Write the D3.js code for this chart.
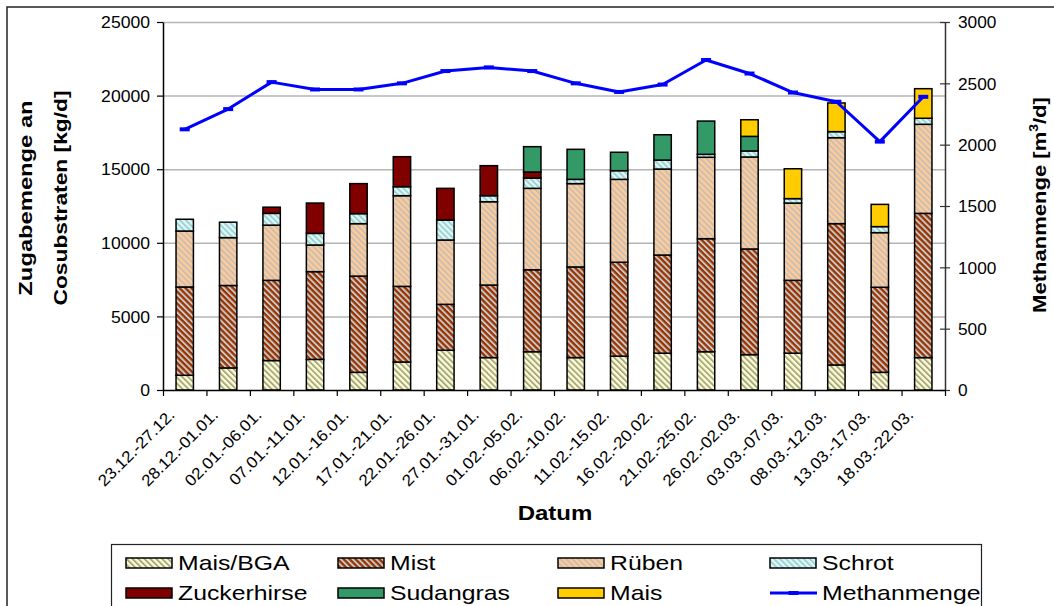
<!DOCTYPE html>
<html><head><meta charset="utf-8">
<script src="https://cdn.jsdelivr.net/npm/d3@7"></script>
<style>body{margin:0;background:#fff}svg{display:block}text{font-family:"Liberation Sans",Arial,sans-serif}</style>
</head><body>
<script>
const categories = ["23.12.-27.12.","28.12.-01.01.","02.01.-06.01.","07.01.-11.01.","12.01.-16.01.","17.01.-21.01.","22.01.-26.01.","27.01.-31.01.","01.02.-05.02.","06.02.-10.02.","11.02.-15.02.","16.02.-20.02.","21.02.-25.02.","26.02.-02.03.","03.03.-07.03.","08.03.-12.03.","13.03.-17.03.","18.03.-22.03."];
const maisBGA     = [1000,1500,2000,2080,1200,1900,2700,2200,2600,2200,2300,2500,2600,2400,2500,1700,1200,2200];
const mist        = [6000,5600,5450,5960,6540,5140,3120,4930,5570,6160,6380,6670,7680,7180,4950,9600,5780,9800];
const rueben      = [3800,3250,3750,1810,3560,6160,4370,5660,5530,5660,5630,5840,5530,6250,5250,5840,3710,6050];
const schrot      = [800,1050,800,790,680,610,1360,410,700,290,590,610,200,410,300,410,410,410];
const zuckerhirse = [0,0,420,2060,2040,2040,2150,2040,410,0,0,0,0,0,0,0,0,0];
const sudangras   = [0,0,0,0,0,0,0,0,1720,2040,1250,1720,2260,990,0,0,0,0];
const mais        = [0,0,0,0,0,0,0,0,0,0,0,0,0,1130,2030,1950,1510,2010];
const methan      = [2125,2290,2510,2450,2450,2500,2600,2630,2600,2500,2430,2490,2690,2580,2425,2350,2025,2390];
const leftTicks   = [0,5000,10000,15000,20000,25000];
const rightTicks  = [0,500,1000,1500,2000,2500,3000];
const seriesNames = ["Mais/BGA","Mist","Rüben","Schrot","Zuckerhirse","Sudangras","Mais"];
const seriesData  = [maisBGA,mist,rueben,schrot,zuckerhirse,sudangras,mais];

const W=1054,H=606, L=163,R=945,T=22,B=390;
const svg=d3.select("body").append("svg").attr("width",W).attr("height",H);
svg.append("rect").attr("width",W).attr("height",H).attr("fill","#fff");
const defs=svg.append("defs");
function stripe(id,bg,fg){
  const p=defs.append("pattern").attr("id",id).attr("patternUnits","userSpaceOnUse")
    .attr("width",4.2).attr("height",4.2).attr("patternTransform","rotate(-45)");
  p.append("rect").attr("width",4.2).attr("height",4.2).attr("fill",bg);
  p.append("rect").attr("width",1.9).attr("height",4.2).attr("fill",fg);
}
stripe("pMaisBGA","#FFFFCC","#A6A68C");
stripe("pMist","#993300","#C8C8C8");
stripe("pRueben","#FFCC99","#C8BEB4");
stripe("pSchrot","#CCFFFF","#B4C8C8");
const fills={"Mais/BGA":"url(#pMaisBGA)","Mist":"url(#pMist)","Rüben":"url(#pRueben)","Schrot":"url(#pSchrot)","Zuckerhirse":"#800000","Sudangras":"#339966","Mais":"#FFCC00"};

// outer frame
svg.append("rect").attr("x",7).attr("y",7).attr("width",1200).attr("height",800).attr("fill","none").attr("stroke","#222").attr("stroke-width",1.5);

const x=d3.scaleBand().domain(categories).range([L,R]).paddingInner(0.6).paddingOuter(0.3);
const xi=d3.scaleLinear().domain([0,categories.length]).range([L,R]);
const yL=d3.scaleLinear().domain([0,25000]).range([B,T]);
const yR=d3.scaleLinear().domain([0,3000]).range([B,T]);

function stretch(sel,sx){
  sel.each(function(){
    const t=d3.select(this); const tx=+t.attr("x")||0, ty=+t.attr("y")||0;
    t.attr("x",0).attr("y",0).attr("transform",`translate(${tx},${ty}) scale(${sx},1)`);
  });
}

// gridlines
const grid=svg.append("g").attr("transform",`translate(${L},0)`)
  .call(d3.axisLeft(yL).tickValues(leftTicks.filter(v=>v>0)).tickSize(-(R-L)).tickFormat(""));
grid.select(".domain").remove();
grid.selectAll("line").attr("stroke","#B4B4B4").attr("stroke-width",1.5);

// bars
const rows=categories.map((c,i)=>{const o={cat:c};seriesNames.forEach((s,k)=>o[s]=seriesData[k][i]);return o;});
const stacked=d3.stack().keys(seriesNames)(rows);
svg.append("g").selectAll("g").data(stacked).join("g").attr("fill",d=>fills[d.key])
  .selectAll("rect").data(d=>d.filter(e=>e[1]-e[0]>0)).join("rect")
  .attr("x",d=>x(d.data.cat)).attr("width",x.bandwidth())
  .attr("y",d=>yL(d[1])).attr("height",d=>yL(d[0])-yL(d[1]))
  .attr("stroke","#000").attr("stroke-width",1.5);

// left axis
const ax=svg.append("g").attr("transform",`translate(${L},0)`)
  .call(d3.axisLeft(yL).tickValues(leftTicks).tickSizeInner(6).tickSizeOuter(0).tickPadding(7).tickFormat(d3.format("d")));
ax.select(".domain").attr("stroke","#000").attr("stroke-width",1.5);
ax.selectAll("line").attr("stroke","#000").attr("stroke-width",1.2);
ax.selectAll("text").attr("font-size",16).attr("fill","#000").attr("dy","0.36em");
stretch(ax.selectAll("text"),1.1);

// right axis
const ar=svg.append("g").attr("transform",`translate(${R},0)`)
  .call(d3.axisRight(yR).tickValues(rightTicks).tickSizeInner(5).tickSizeOuter(0).tickPadding(8).tickFormat(d3.format("d")));
ar.select(".domain").attr("stroke","#333").attr("stroke-width",1.5);
ar.selectAll("line").attr("x1",-5).attr("stroke","#333").attr("stroke-width",1.2);
ar.selectAll("text").attr("font-size",16).attr("fill","#000").attr("dy","0.36em");
stretch(ar.selectAll("text"),1.08);

// bottom axis: tick marks at boundaries
const ab=svg.append("g").attr("transform",`translate(0,${B})`)
  .call(d3.axisBottom(xi).ticks(categories.length).tickSizeInner(6).tickSizeOuter(0).tickFormat(""));
ab.select(".domain").attr("stroke","#000").attr("stroke-width",1.5);
ab.selectAll("line").attr("stroke","#000").attr("stroke-width",1.2);
// labels
const al=svg.append("g").attr("transform",`translate(0,${B})`)
  .call(d3.axisBottom(x).tickSize(0).tickPadding(0));
al.select(".domain").remove();
al.selectAll("text").attr("font-size",16).attr("fill","#000").attr("text-anchor","end")
  .attr("y",0).attr("dy",0).attr("transform","translate(-9,26) rotate(-45) scale(1.07,1)");

// methane line
const line=d3.line().x((d,i)=>x(categories[i])+x.bandwidth()/2).y(d=>yR(d));
svg.append("path").datum(methan).attr("d",line).attr("fill","none").attr("stroke","#0000FF").attr("stroke-width",3).attr("stroke-linejoin","round");
svg.append("g").selectAll("rect").data(methan).join("rect")
  .attr("x",(d,i)=>x(categories[i])+x.bandwidth()/2-5).attr("y",d=>yR(d)-2).attr("width",10).attr("height",4).attr("fill","#0000FF");

// axis titles
function title(txt,tx,ty,rot,sx,size){
  return svg.append("text").attr("transform",`translate(${tx},${ty}) rotate(${rot}) scale(${sx},1)`)
    .attr("text-anchor","middle").attr("font-weight","bold").attr("font-size",size).attr("fill","#000").text(txt);
}
title("Zugabemenge an",32,198,-90,1.25,19);
title("Cosubstraten [kg/d]",67,198,-90,1.2,19);
title("Datum",555,520,0,1.2,20);
const rt=svg.append("text").attr("transform","translate(1046,205) rotate(-90) scale(1.16,1)")
  .attr("text-anchor","middle").attr("font-weight","bold").attr("font-size",19).attr("fill","#000");
rt.append("tspan").text("Methanmenge [m");
rt.append("tspan").attr("dy",-8).attr("font-size",12).text("3");
rt.append("tspan").attr("dy",8).text("/d]");

// legend
svg.append("rect").attr("x",111.5).attr("y",544.5).attr("width",870).attr("height",100).attr("fill","#fff").attr("stroke","#222").attr("stroke-width",1.2);
const legendItems=seriesNames.concat(["Methanmenge"]);
const colX=[178,390,610,822], rowY=[563,593];
const lg=svg.append("g");
legendItems.forEach((name,i)=>{
  const cx=colX[i%4], cy=rowY[Math.floor(i/4)];
  if(name==="Methanmenge"){
    lg.append("line").attr("x1",cx-52).attr("x2",cx-5).attr("y1",cy).attr("y2",cy).attr("stroke","#0000FF").attr("stroke-width",3);
    lg.append("rect").attr("x",cx-33.5).attr("y",cy-2).attr("width",10).attr("height",4).attr("fill","#0000FF");
  } else {
    lg.append("rect").attr("x",cx-52).attr("y",cy-5).attr("width",46).attr("height",10).attr("fill",fills[name]).attr("stroke","#000").attr("stroke-width",1.5);
  }
  lg.append("text").attr("transform",`translate(${cx},${cy+7}) scale(1.24,1)`).attr("font-size",20).attr("fill","#000").text(name);
});
</script>
</body></html>
